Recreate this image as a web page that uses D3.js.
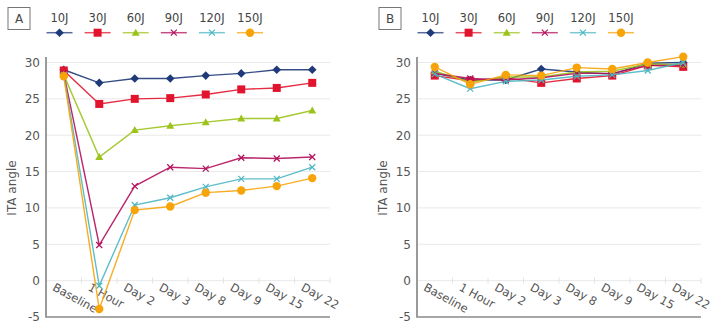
<!DOCTYPE html>
<html><head><meta charset="utf-8">
<script src="https://cdn.jsdelivr.net/npm/d3@7/dist/d3.min.js"></script>
<style>body{margin:0;background:#fff;} svg{display:block;font-family:"DejaVu Sans",sans-serif;}</style>
</head><body><svg id="c" width="717" height="329"></svg>
<script>
const categories = ["Baseline","1 Hour","Day 2","Day 3","Day 8","Day 9","Day 15","Day 22"];
const seriesNames = ["10J","30J","60J","90J","120J","150J"];
const yTicks = [-5,0,5,10,15,20,25,30];

// Panel A values
const a10J  = [29.0, 27.2, 27.8, 27.8, 28.2, 28.5, 29.0, 29.0];
const a30J  = [28.9, 24.3, 25.0, 25.1, 25.6, 26.3, 26.5, 27.2];
const a60J  = [28.3, 17.0, 20.7, 21.3, 21.8, 22.3, 22.3, 23.4];
const a90J  = [28.5, 4.9, 13.0, 15.6, 15.4, 16.9, 16.8, 17.0];
const a120J = [28.3, -0.7, 10.4, 11.4, 12.9, 14.0, 14.0, 15.6];
const a150J = [28.1, -3.9, 9.7, 10.2, 12.1, 12.4, 13.0, 14.1];

// Panel B values
const b10J  = [28.5, 27.6, 27.6, 29.1, 28.7, 28.4, 29.9, 30.0];
const b30J  = [28.2, 27.5, 27.9, 27.2, 27.8, 28.2, 29.6, 29.4];
const b60J  = [28.8, 27.3, 28.0, 28.0, 28.7, 28.8, 29.8, 29.7];
const b90J  = [28.5, 27.8, 27.6, 27.9, 28.5, 28.5, 29.6, 29.6];
const b120J = [28.4, 26.4, 27.4, 27.6, 28.1, 28.3, 28.9, 30.0];
const b150J = [29.4, 27.0, 28.3, 28.2, 29.3, 29.1, 30.0, 30.8];

const colors = ["#1f3a78","#e2142d","#9cc31c","#b3105c","#4db6c2","#f7a30a"];
const markers = ["diamond","square","triangle","x","x","circle"];

const svg = d3.select("#c");
const y = d3.scaleLinear().domain([-5,30]).range([317,62.5]);

function marker(g, type, color, cx, cy){
  if(type==="diamond"){
    g.append("path").attr("d",`M${cx},${cy-4.3}L${cx+4.3},${cy}L${cx},${cy+4.3}L${cx-4.3},${cy}Z`).attr("fill",color);
  } else if(type==="square"){
    g.append("rect").attr("x",cx-4).attr("y",cy-4).attr("width",8).attr("height",8).attr("fill",color);
  } else if(type==="triangle"){
    g.append("path").attr("d",`M${cx},${cy-4}L${cx+4},${cy+3}L${cx-4},${cy+3}Z`).attr("fill",color);
  } else if(type==="circle"){
    g.append("circle").attr("cx",cx).attr("cy",cy).attr("r",4.2).attr("fill",color);
  } else {
    g.append("path").attr("d",`M${cx-3},${cy-3}L${cx+3},${cy+3}M${cx-3},${cy+3}L${cx+3},${cy-3}`).attr("stroke",color).attr("stroke-width",1.2).attr("fill","none");
  }
}

function panel(x0, letter, data){
  const x = d3.scaleBand().domain(categories).range([x0, x0+284]);
  const g = svg.append("g");
  // gridlines
  g.selectAll(".grid").data(yTicks.filter(t=>t>-5)).join("line")
    .attr("x1",x0).attr("x2",x0+284).attr("y1",d=>y(d)).attr("y2",d=>y(d))
    .attr("stroke","#e9e9e9").attr("stroke-width",1);
  // x ticks on zero line
  g.selectAll(".xt").data(categories).join("line")
    .attr("x1",(d,i)=>x0+(i+1)*x.bandwidth()).attr("x2",(d,i)=>x0+(i+1)*x.bandwidth())
    .attr("y1",y(0)-3).attr("y2",y(0)+3).attr("stroke","#e4e4e4").attr("stroke-width",1);
  // bottom axis line
  g.append("line").attr("x1",x0).attr("x2",x0+284).attr("y1",y(-5)).attr("y2",y(-5))
    .attr("stroke","#8a8a8a").attr("stroke-width",1.5);
  // y axis line
  g.append("line").attr("x1",x0).attr("x2",x0).attr("y1",57).attr("y2",y(-5)+0.75)
    .attr("stroke","#9a9a9a").attr("stroke-width",2);
  // y tick labels
  g.selectAll(".yl").data(yTicks).join("text")
    .attr("x",x0-6).attr("y",d=>y(d)).attr("dy","0.36em").attr("text-anchor","end")
    .attr("font-size",12).attr("fill","#555").text(d=>d);
  // y title
  g.append("text").attr("transform",`translate(${x0-30},${188}) rotate(-90)`)
    .attr("text-anchor","middle").attr("font-size",12).attr("fill","#555").text("ITA angle");
  // x labels
  g.selectAll(".xl").data(categories).join("text")
    .attr("transform",d=>`translate(${x(d)+x.bandwidth()/2-12},${y(0)+9}) rotate(29)`)
    .attr("font-size",11.5).attr("fill","#555").text(d=>d);
  // letter box
  g.append("rect").attr("x",x0-38).attr("y",7.5).attr("width",22).attr("height",22)
    .attr("fill","none").attr("stroke","#777").attr("stroke-width",1);
  g.append("text").attr("x",x0-27).attr("y",18.5).attr("dy","0.36em").attr("text-anchor","middle")
    .attr("font-size",12).attr("fill","#444").text(letter);
  // legend
  seriesNames.forEach((n,i)=>{
    const cx = x0+13.5+i*38.1;
    g.append("text").attr("x",cx).attr("y",21.5).attr("text-anchor","middle")
      .attr("font-size",11.5).attr("fill","#444").text(n);
    g.append("line").attr("x1",cx-13).attr("x2",cx+13).attr("y1",32.7).attr("y2",32.7)
      .attr("stroke",colors[i]).attr("stroke-width",1.5).attr("stroke-opacity",0.75);
    marker(g, markers[i], colors[i], cx, 32.7);
  });
  // series
  const line = d3.line().x((d,i)=>x(categories[i])+x.bandwidth()/2).y(d=>y(d));
  data.forEach((vals,i)=>{
    const sg = g.append("g");
    sg.append("path").attr("d",line(vals)).attr("fill","none").attr("stroke",colors[i])
      .attr("stroke-width",1.4).attr("stroke-opacity",0.9);
    vals.forEach((v,j)=>marker(sg, markers[i], colors[i], x(categories[j])+x.bandwidth()/2, y(v)));
  });
}

panel(46, "A", [a10J,a30J,a60J,a90J,a120J,a150J]);
panel(417, "B", [b10J,b30J,b60J,b90J,b120J,b150J]);
</script></body></html>
